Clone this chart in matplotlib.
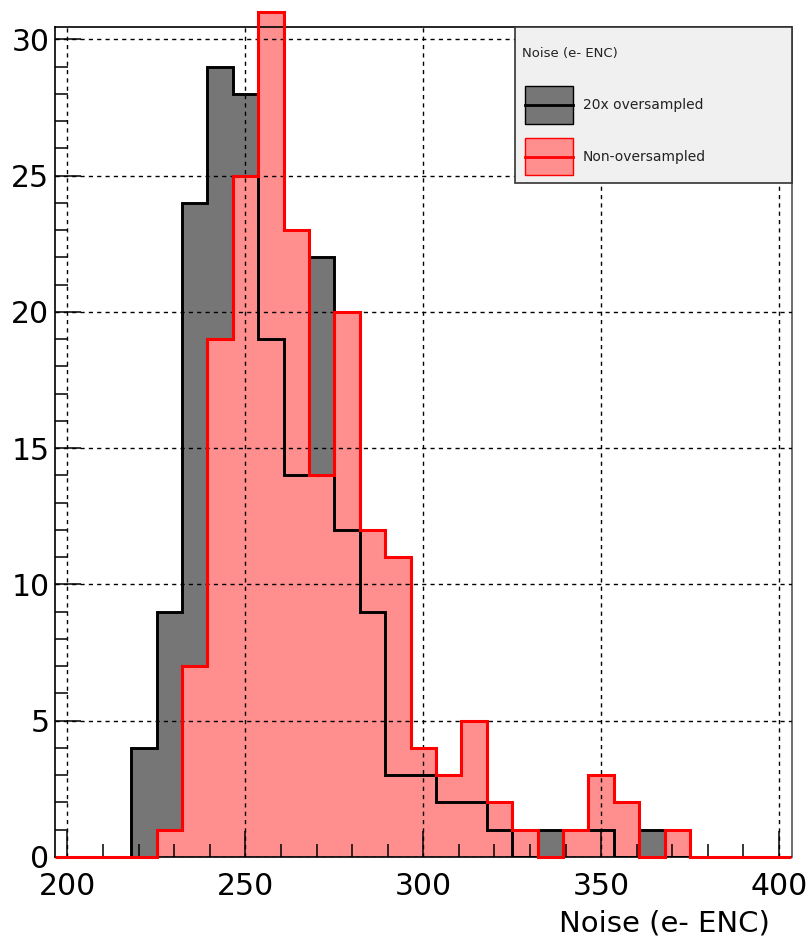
import numpy as np
import matplotlib
matplotlib.use("Agg")
import matplotlib.pyplot as plt
from matplotlib.patches import Rectangle
from matplotlib.lines import Line2D

# --- histogram contents (29 bins between 196.5 and 403.5 e- ENC) ---
x_min, x_max, n_bins = 196.5, 403.5, 29
oversampled = [0, 0, 0, 4, 9, 24, 29, 28, 19, 14, 22, 12, 9, 3, 3, 2, 2, 1, 0,
               1, 1, 1, 0, 1, 0, 0, 0, 0, 0]
non_oversampled = [0, 0, 0, 0, 1, 7, 19, 25, 31, 23, 14, 20, 12, 11, 4, 3, 5, 2, 1,
                   0, 1, 3, 2, 0, 1, 0, 0, 0, 0]
x_ticks = [200, 250, 300, 350, 400]
y_ticks = [0, 5, 10, 15, 20, 25, 30]
titulo_legenda = "Noise (e- ENC)"
rotulos = ["20x oversampled", "Non-oversampled"]

edges = np.linspace(x_min, x_max, n_bins + 1)

W, H = 808, 939
fig = plt.figure(figsize=(W / 100, H / 100), dpi=100)
ax = fig.add_axes([55 / W, 82 / H, 736.5 / W, 830 / H])

cinza = "#767676"
vermelho_claro = "#ff8f8f"

# preenchimentos primeiro, linhas depois
ax.stairs(oversampled, edges, fill=True, color=cinza, zorder=1)
ax.stairs(non_oversampled, edges, fill=True, color=vermelho_claro, zorder=1.2,
          clip_on=False)
ax.stairs(oversampled, edges, baseline=0, color="black", lw=2.1, zorder=3)
ax.stairs(non_oversampled, edges, baseline=0, color="red", lw=2.2, zorder=3.2,
          clip_on=False)

ax.set_xlim(x_min, x_max)
ax.set_ylim(0, max(oversampled) * 1.05)

ax.set_xticks(x_ticks)
ax.set_yticks(y_ticks)
ax.set_xticks(np.arange(210, 400, 10), minor=True)
ax.set_yticks(np.arange(1, 31, 1), minor=True)
ax.tick_params(axis="both", which="major", direction="in", length=19, width=1.1,
               labelsize=21.5, top=False, right=False)
ax.tick_params(axis="both", which="minor", direction="in", length=9.5, width=1.1,
               top=False, right=False)
ax.tick_params(axis="y", which="major", pad=4)
ax.tick_params(axis="x", which="major", pad=10.5)

# grade tracejada por cima das barras
ax.set_axisbelow(False)
ax.grid(True, which="major", color="black", linestyle=(0, (3, 3)), lw=1.0)

for lado in ["left", "bottom", "top"]:
    ax.spines[lado].set_color("black")
    ax.spines[lado].set_linewidth(1.2)
ax.spines["right"].set_color("#555555")
ax.spines["right"].set_linewidth(1.2)

ax.set_xlabel("Noise (e- ENC)", fontsize=21, va="center", ha="right")
ax.xaxis.set_label_coords(0.971, -0.0805)


# --- legenda no estilo ROOT (caixa cinza, amostra com linha no meio) ---
def fx(px):
    return px / W


def fy(py):
    return 1 - py / H


fig.patches.append(Rectangle((fx(515), fy(183)), fx(792) - fx(515), fy(27) - fy(183),
                             transform=fig.transFigure, facecolor="#f0f0f0",
                             edgecolor="#333333", lw=1.2, zorder=5))
fig.text(fx(522), fy(53), titulo_legenda, fontsize=9.5, va="center", ha="left",
         color="#222222", zorder=6)

amostras = [(cinza, "black", 86, 124), (vermelho_claro, "red", 138, 175)]
for (fc, ec, y0, y1), rotulo in zip(amostras, rotulos):
    fig.patches.append(Rectangle((fx(525), fy(y1)), fx(573) - fx(525), fy(y0) - fy(y1),
                                 transform=fig.transFigure, facecolor=fc,
                                 edgecolor=ec, lw=1.0, zorder=6))
    ym = (y0 + y1) / 2
    fig.lines.append(Line2D([fx(525), fx(573)], [fy(ym), fy(ym)],
                            transform=fig.transFigure, color=ec, lw=2, zorder=7))
    fig.text(fx(583), fy(ym), rotulo, fontsize=10, va="center", ha="left",
             color="#222222", zorder=7)

plt.savefig("out.png", dpi=100)
